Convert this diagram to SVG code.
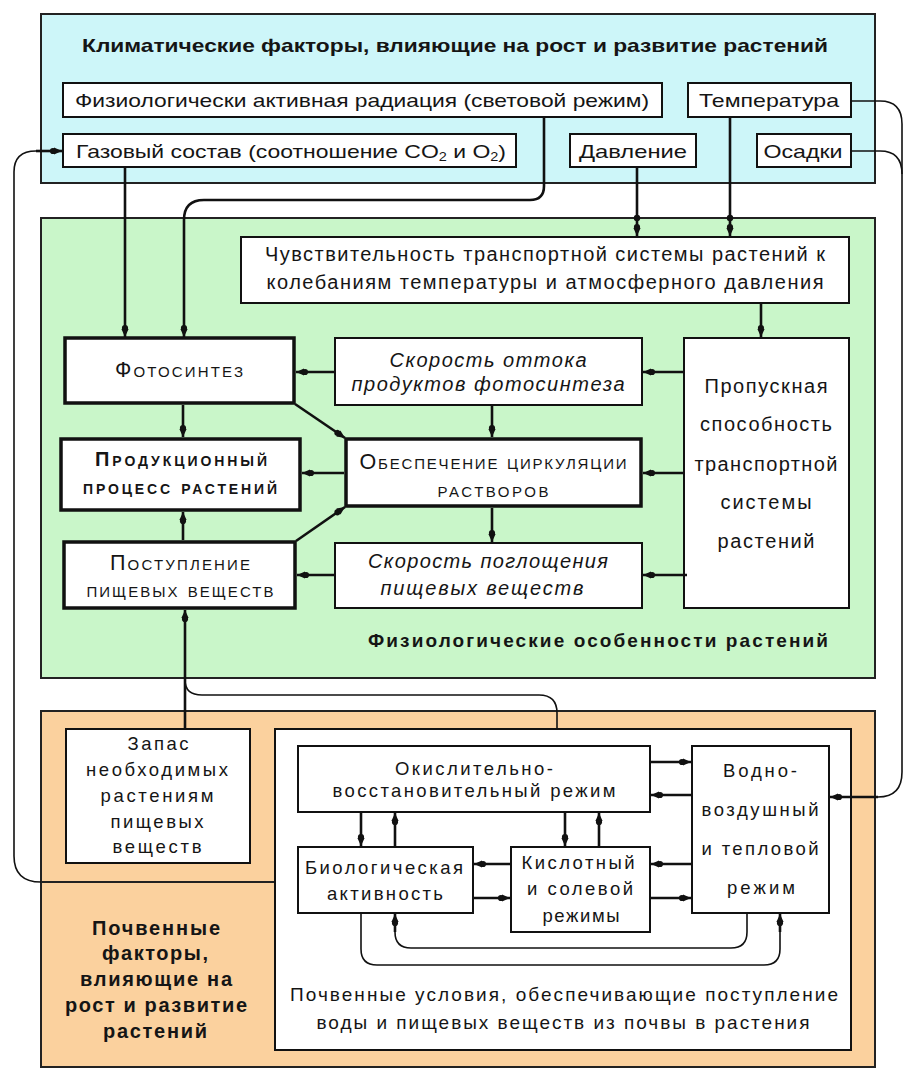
<svg xmlns="http://www.w3.org/2000/svg" width="916" height="1080" viewBox="0 0 916 1080">
<style>
text{font-family:"Liberation Sans",Arial,sans-serif;fill:#151515;text-anchor:middle}
.s18{font-size:18.5px}.s19{font-size:19px}.s20{font-size:20px}.s21{font-size:21.5px}
.b{font-weight:bold}.i{font-style:italic}.sc{font-variant:small-caps}
.panel{stroke:#222;stroke-width:2}
.box{fill:#fff;stroke:#111;stroke-width:2}
.tb{fill:#fff;stroke:#111;stroke-width:3.5}
.c{fill:none;stroke:#111;stroke-width:2.6}
.t{fill:none;stroke:#111;stroke-width:1.6}
</style>
<defs>
<marker id="ah" markerUnits="userSpaceOnUse" viewBox="-14 -6 16 12" markerWidth="16" markerHeight="12" refX="0" refY="0" orient="auto" overflow="visible">
<path d="M0,0 L-8,-3.6 L-8,3.6 Z" fill="#111"/>
<circle cx="-9" cy="0" r="3.1" fill="#111"/>
</marker>
</defs>

<!-- panels -->
<g id="climate-panel"><rect x="41" y="14" width="834" height="169" fill="#cdf6f9" class="panel"/>
<text class="s19 b" x="455" y="52" textLength="746" lengthAdjust="spacingAndGlyphs">Климатические факторы, влияющие на рост и развитие растений</text></g>
<g id="physio-panel"><rect x="41" y="218" width="834" height="460" fill="#c9f6c9" class="panel"/>
<text class="s19 b" x="598" y="647" textLength="460">Физиологические особенности растений</text></g>
<g id="soil-panel"><rect x="41" y="711" width="834" height="356" fill="#fbd19e" class="panel"/>
<line x1="41" y1="882" x2="275" y2="882" stroke="#222" stroke-width="2"/>
<text class="s20 b" x="156" y="935" textLength="128">Почвенные</text>
<text class="s20 b" x="155" y="960" textLength="106">факторы,</text>
<text class="s20 b" x="156" y="986" textLength="152">влияющие на</text>
<text class="s20 b" x="156" y="1012" textLength="182">рост и развитие</text>
<text class="s20 b" x="155" y="1038" textLength="104">растений</text></g>

<!-- climate nodes -->
<g id="par"><rect class="box" x="63" y="83" width="599" height="34"/>
<text class="s19" x="362" y="107" textLength="574" lengthAdjust="spacingAndGlyphs">Физиологически активная радиация (световой режим)</text></g>
<g id="temp"><rect class="box" x="688" y="83" width="163" height="34"/>
<text class="s19" x="769" y="107" textLength="140" lengthAdjust="spacingAndGlyphs">Температура</text></g>
<g id="gas"><rect class="box" x="63" y="134" width="453" height="33"/>
<text class="s19" x="291" y="158" textLength="430" lengthAdjust="spacingAndGlyphs">Газовый состав (соотношение CO<tspan font-size="12" dy="3">2</tspan><tspan dy="-3"> и O</tspan><tspan font-size="12" dy="3">2</tspan><tspan dy="-3">)</tspan></text></g>
<g id="pressure"><rect class="box" x="570" y="134" width="126" height="33"/>
<text class="s19" x="633" y="158" textLength="108" lengthAdjust="spacingAndGlyphs">Давление</text></g>
<g id="precip"><rect class="box" x="757" y="134" width="94" height="33"/>
<text class="s19" x="803" y="158" textLength="79" lengthAdjust="spacingAndGlyphs">Осадки</text></g>

<!-- physiology nodes -->
<g id="sensitivity"><rect class="box" x="241" y="237" width="608" height="66"/>
<text class="s20" x="545" y="261" textLength="560">Чувствительность транспортной системы растений к</text>
<text class="s20" x="545" y="289" textLength="557">колебаниям температуры и атмосферного давления</text></g>
<g id="photosynthesis"><rect class="tb" x="65" y="338" width="229" height="65"/>
<text class="s21 sc" x="179" y="377" textLength="128">Фотосинтез</text></g>
<g id="outflow"><rect class="box" x="335" y="338" width="307" height="67"/>
<text class="s20 i" x="488" y="367" textLength="197">Скорость оттока</text>
<text class="s20 i" x="488" y="391" textLength="273">продуктов фотосинтеза</text></g>
<g id="capacity"><rect class="box" x="684" y="338" width="165" height="270"/>
<text class="s20" x="766" y="393" textLength="123">Пропускная</text>
<text class="s20" x="766" y="431" textLength="132">способность</text>
<text class="s20" x="766" y="471" textLength="143">транспортной</text>
<text class="s20" x="766" y="509" textLength="91">системы</text>
<text class="s20" x="766" y="548" textLength="97">растений</text></g>
<g id="production"><rect class="tb" x="61" y="439" width="239" height="71"/>
<text class="s20 b sc" x="181" y="466" textLength="172">Продукционный</text>
<text class="s20 b sc" x="180" y="494" textLength="194">процесс растений</text></g>
<g id="circulation"><rect class="tb" x="346" y="439" width="295" height="67"/>
<text class="s21 sc" x="493" y="469" textLength="267">Обеспечение циркуляции</text>
<text class="s21 sc" x="493" y="497" textLength="111">растворов</text></g>
<g id="intake"><rect class="tb" x="64" y="542" width="231" height="66"/>
<text class="s21 sc" x="180" y="570" textLength="140">Поступление</text>
<text class="s21 sc" x="180" y="597" textLength="187">пищевых веществ</text></g>
<g id="absorption"><rect class="box" x="335" y="543" width="307" height="65"/>
<text class="s20 i" x="488" y="568" textLength="240">Скорость поглощения</text>
<text class="s20 i" x="482" y="595" textLength="203">пищевых веществ</text></g>

<!-- soil nodes -->
<g id="stock"><rect class="box" x="66" y="729" width="184" height="134"/>
<text class="s18" x="158" y="750" textLength="61">Запас</text>
<text class="s18" x="157" y="776" textLength="142">необходимых</text>
<text class="s18" x="157" y="802" textLength="113">растениям</text>
<text class="s18" x="157" y="828" textLength="93">пищевых</text>
<text class="s18" x="157" y="853" textLength="89">веществ</text></g>
<g id="conditions"><rect class="box" x="275" y="729" width="576" height="321"/>
<text class="s19" x="564" y="1001" textLength="548">Почвенные условия, обеспечивающие поступление</text>
<text class="s19" x="563" y="1029" textLength="493">воды и пищевых веществ из почвы в растения</text></g>
<g id="redox"><rect class="box" x="298" y="746" width="352" height="66"/>
<text class="s18" x="474" y="775" textLength="158">Окислительно-</text>
<text class="s18" x="474" y="797" textLength="283">восстановительный режим</text></g>
<g id="bio"><rect class="box" x="298" y="847" width="175" height="66"/>
<text class="s18" x="384" y="874" textLength="158">Биологическая</text>
<text class="s18" x="385" y="900" textLength="116">активность</text></g>
<g id="acid"><rect class="box" x="511" y="847" width="139" height="85"/>
<text class="s18" x="578" y="869" textLength="113">Кислотный</text>
<text class="s18" x="580" y="895" textLength="106">и солевой</text>
<text class="s18" x="581" y="922" textLength="77">режимы</text></g>
<g id="water"><rect class="box" x="692" y="746" width="137" height="167"/>
<text class="s18" x="760" y="777" textLength="74">Водно-</text>
<text class="s18" x="760" y="816" textLength="117">воздушный</text>
<text class="s18" x="760" y="855" textLength="117">и тепловой</text>
<text class="s18" x="761" y="894" textLength="68">режим</text></g>

<!-- connectors -->
<g id="connectors">
<path class="c" d="M544,117 V186 Q544,200 530,200 H204 Q184,200 184,220 V337" marker-end="url(#ah)"/>
<path class="c" d="M125,167 V337" marker-end="url(#ah)"/>
<path class="c" d="M637,167 V236" marker-end="url(#ah)"/>
<path class="c" d="M730,117 V236" marker-end="url(#ah)"/>
<circle cx="637" cy="218" r="3.2" fill="#111"/>
<circle cx="730" cy="218" r="3.2" fill="#111"/>
<path class="c" d="M761,303 V337" marker-end="url(#ah)"/>
<path class="c" d="M684,372 H643" marker-end="url(#ah)"/>
<path class="c" d="M335,372 H296" marker-end="url(#ah)"/>
<path class="c" d="M492,405 V437" marker-end="url(#ah)"/>
<path class="c" d="M183,405 V437" marker-end="url(#ah)"/>
<path class="c" d="M295,404 L345,438" marker-end="url(#ah)"/>
<path class="c" d="M344,473 H302" marker-end="url(#ah)"/>
<path class="c" d="M684,473 H643" marker-end="url(#ah)"/>
<path class="c" d="M492,508 V542" marker-end="url(#ah)"/>
<path class="c" d="M296,541 L345,507" marker-end="url(#ah)"/>
<path class="c" d="M183,540 V512" marker-end="url(#ah)"/>
<path class="c" d="M335,575 H297" marker-end="url(#ah)"/>
<path class="c" d="M687,575 H643" marker-end="url(#ah)"/>
<path class="c" d="M185,729 V610" marker-end="url(#ah)"/>
<path class="t" d="M557,729 V713 Q557,695 539,695 H202 Q185,695 185,680"/>
<path class="t" d="M41,882 Q14,882 14,856 V172 Q14,151 36,151"/>
<path class="c" d="M36,151 H62" marker-end="url(#ah)"/>
<path class="t" d="M851,101 H880 Q902,101 902,124 V772 Q902,797 878,797"/>
<path class="t" d="M851,151 H880 Q902,151 902,174"/>
<path class="c" d="M878,797 H830" marker-end="url(#ah)"/>
<path class="c" d="M650,762 H691" marker-end="url(#ah)"/>
<path class="c" d="M692,795 H651" marker-end="url(#ah)"/>
<path class="c" d="M692,864 H651" marker-end="url(#ah)"/>
<path class="c" d="M650,898 H691" marker-end="url(#ah)"/>
<path class="c" d="M511,864 H474" marker-end="url(#ah)"/>
<path class="c" d="M473,898 H510" marker-end="url(#ah)"/>
<path class="c" d="M361,812 V846" marker-end="url(#ah)"/>
<path class="c" d="M395,847 V813" marker-end="url(#ah)"/>
<path class="c" d="M565,812 V846" marker-end="url(#ah)"/>
<path class="c" d="M599,847 V813" marker-end="url(#ah)"/>
<path class="t" d="M747,913 V932 Q747,948 731,948 H411 Q395,948 395,932 V930"/>
<path class="c" d="M395,932 V914" marker-end="url(#ah)"/>
<path class="t" d="M361,913 V949 Q361,965 377,965 H764 Q780,965 780,949 V932"/>
<path class="c" d="M780,932 V914" marker-end="url(#ah)"/>
</g>
</svg>
